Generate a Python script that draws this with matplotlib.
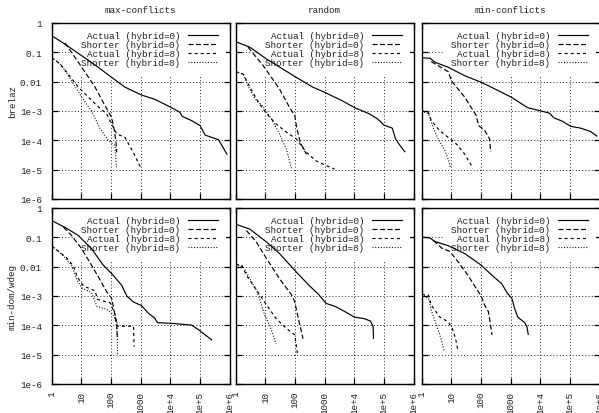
import matplotlib.pyplot as plt
from matplotlib.ticker import FixedLocator, FixedFormatter, NullLocator

plt.rcParams['font.family'] = ['Liberation Mono', 'DejaVu Sans Mono']
plt.rcParams['font.size'] = 6.7
plt.rcParams['text.color'] = '#222222'
plt.rcParams['lines.scale_dashes'] = False

solvers = ['max-conflicts', 'random', 'min-conflicts']
heuristics = ['brelaz', 'min-dom/wdeg']
series_labels = ['Actual (hybrid=0)', 'Shorter (hybrid=0)',
                 'Actual (hybrid=8)', 'Shorter (hybrid=8)']
x_ticks = [1, 10, 100, 1000, 1e4, 1e5, 1e6]
x_ticklabels = ['1', '10', '100', '1000', '1e+4', '1e+5', '1e+6']
y_ticks = [1, 0.1, 0.01, 1e-3, 1e-4, 1e-5, 1e-6]
y_ticklabels = ['1', '0.1', '0.01', '1e-3', '1e-4', '1e-5', '1e-6']

# brelaz / max-conflicts
bz_maxc_a0_x = [1, 2.8, 10, 37, 105, 295, 1070, 3000, 11000, 21000, 25000, 52000, 100000, 150000, 420000, 800000]
bz_maxc_a0_y = [0.37, 0.19, 0.078, 0.031, 0.014, 0.0065, 0.0035, 0.0025, 0.0013, 0.0009, 0.00066, 0.00047, 0.00032, 0.00015, 0.000105, 0.000034]
bz_maxc_s0_x = [2.8, 7.9, 29, 63, 105, 126, 145, 155]
bz_maxc_s0_y = [0.21, 0.046, 0.0065, 0.0015, 0.0006, 0.00025, 0.0001, 0.000039]
bz_maxc_a8_x = [1, 1.9, 3.6, 7.9, 17, 37, 71, 105, 155, 295, 560, 1020]
bz_maxc_a8_y = [0.068, 0.04, 0.018, 0.0065, 0.003, 0.0014, 0.0008, 0.00036, 0.000166, 0.000126, 0.000039, 0.0000112]
bz_maxc_s8_x = [1, 2.2, 4.7, 10.2, 22, 43, 81, 135, 155]
bz_maxc_s8_y = [0.068, 0.035, 0.0107, 0.003, 0.001, 0.00025, 0.0001, 0.000066, 0.0000105]

# brelaz / random
bz_rand_a0_x = [1, 3.0, 11, 110, 400, 1120, 4000, 10200, 32000, 60000, 100000, 190000, 245000, 320000, 500000]
bz_rand_a0_y = [0.23, 0.15, 0.059, 0.014, 0.0065, 0.0041, 0.0022, 0.0013, 0.0008, 0.00054, 0.00033, 0.00026, 0.000112, 0.000074, 0.000041]
bz_rand_s0_x = [2.6, 8.5, 30, 66, 98, 115, 150, 240]
bz_rand_s0_y = [0.15, 0.035, 0.0056, 0.0013, 0.0007, 0.00025, 0.000085, 0.000034]
bz_rand_a8_x = [1, 1.8, 3.0, 5.8, 11, 23, 51, 110, 240, 510, 1120, 2140]
bz_rand_a8_y = [0.022, 0.018, 0.0065, 0.002, 0.0008, 0.00036, 0.00019, 0.000112, 0.000039, 0.00002, 0.0000138, 0.0000105]
bz_rand_s8_x = [1, 1.8, 2.6, 4.5, 8.5, 16, 30, 51, 76]
bz_rand_s8_y = [0.022, 0.018, 0.0072, 0.0026, 0.0014, 0.00054, 0.000166, 0.00005, 0.0000112]

# brelaz / min-conflicts
bz_minc_a0_x = [1, 1.9, 2.8, 7.8, 28, 102, 220, 1020, 3700, 10500, 20000, 29000, 55000, 105000, 230000, 490000, 800000]
bz_minc_a0_y = [0.065, 0.063, 0.046, 0.031, 0.016, 0.0095, 0.0065, 0.003, 0.0013, 0.001, 0.00085, 0.00058, 0.00045, 0.0003, 0.00026, 0.0002, 0.00014]
bz_minc_s0_x = [2.1, 3.6, 7.8, 10, 28, 69, 83, 132, 195, 210]
bz_minc_s0_y = [0.048, 0.035, 0.022, 0.0107, 0.003, 0.0007, 0.00032, 0.00022, 0.000112, 0.000041]
bz_minc_a8_x = [1, 1.7, 2.1, 4.1, 7.8, 15, 28, 54]
bz_minc_a8_y = [0.001, 0.0009, 0.00047, 0.00021, 0.000126, 0.000074, 0.000034, 0.0000112]
bz_minc_s8_x = [1, 1.7, 2.5, 3.6, 6.0, 7.8, 9.5]
bz_minc_s8_y = [0.001, 0.0008, 0.00025, 0.000112, 0.000045, 0.000023, 0.0000112]

# min-dom/wdeg / max-conflicts
dw_maxc_a0_x = [1, 2.8, 7.9, 22, 55, 105, 230, 340, 560, 1070, 1800, 2900, 3700, 11000, 52000, 87000, 245000]
dw_maxc_a0_y = [0.37, 0.22, 0.115, 0.041, 0.0112, 0.0058, 0.0023, 0.001, 0.00063, 0.00047, 0.00026, 0.00018, 0.000123, 0.000117, 0.000102, 0.000072, 0.000032]
dw_maxc_s0_x = [2.5, 4.7, 10.2, 22, 43, 71, 105, 120, 135, 155, 166]
dw_maxc_s0_y = [0.22, 0.115, 0.041, 0.0112, 0.0035, 0.0014, 0.00083, 0.00043, 0.00022, 0.000089, 0.000032]
dw_maxc_a8_x = [1, 3.2, 5.4, 7.4, 11.7, 29, 35, 93, 138, 166, 575, 600]
dw_maxc_a8_y = [0.051, 0.02, 0.0105, 0.0043, 0.0022, 0.0015, 0.00076, 0.00059, 0.00023, 0.000093, 0.000093, 0.000019]
dw_maxc_s8_x = [1, 2.5, 4.8, 6.9, 10.2, 22, 33, 72, 120, 158, 166]
dw_maxc_s8_y = [0.051, 0.023, 0.0105, 0.0037, 0.0019, 0.0013, 0.00045, 0.00035, 0.00023, 0.000123, 0.00001]

# min-dom/wdeg / random
dw_rand_a0_x = [1, 3.0, 11, 30, 110, 310, 590, 1120, 2400, 5200, 10200, 21000, 35000, 43000, 44000]
dw_rand_a0_y = [0.28, 0.19, 0.069, 0.028, 0.0066, 0.0022, 0.0012, 0.00056, 0.00043, 0.00028, 0.00019, 0.00017, 0.00014, 0.000089, 0.000036]
dw_rand_s0_x = [2.3, 5.0, 11, 30, 76, 98, 115, 141, 186]
dw_rand_s0_y = [0.17, 0.069, 0.0186, 0.0039, 0.0011, 0.00063, 0.00029, 0.000117, 0.000035]
dw_rand_a8_x = [1, 1.6, 2.3, 5.0, 11, 23, 51, 98, 120]
dw_rand_a8_y = [0.012, 0.0112, 0.0051, 0.0016, 0.00049, 0.00017, 0.000079, 0.000047, 0.0000112]
dw_rand_s8_x = [1, 1.8, 3.0, 5.0, 6.9, 9.5, 14, 23]
dw_rand_s8_y = [0.012, 0.0098, 0.0039, 0.0016, 0.00063, 0.00022, 0.0001, 0.000023]

# min-dom/wdeg / min-conflicts
dw_minc_a0_x = [1, 1.9, 2.8, 7.8, 28, 102, 220, 500, 790, 1100, 1350, 1740, 2900, 3550, 3900]
dw_minc_a0_y = [0.102, 0.095, 0.072, 0.052, 0.028, 0.0112, 0.0054, 0.0026, 0.0012, 0.00083, 0.00038, 0.00019, 0.000126, 0.000089, 0.000049]
dw_minc_s0_x = [2.5, 4.7, 8.9, 17, 36, 69, 102, 132, 178, 210, 235]
dw_minc_s0_y = [0.078, 0.043, 0.033, 0.0145, 0.0051, 0.0018, 0.001, 0.00049, 0.00029, 0.0001, 0.000047]
dw_minc_a8_x = [1, 1.7, 2.1, 4.1, 7.8, 10.7, 13.8, 17]
dw_minc_a8_y = [0.00115, 0.00107, 0.00049, 0.00019, 0.000132, 0.000079, 0.000036, 0.0000129]
dw_minc_s8_x = [1, 1.7, 2.1, 3.0, 4.1, 5.8]
dw_minc_s8_y = [0.00115, 0.00083, 0.00033, 0.000117, 0.000047, 0.0000129]

panels = [
    [[(bz_maxc_a0_x, bz_maxc_a0_y), (bz_maxc_s0_x, bz_maxc_s0_y), (bz_maxc_a8_x, bz_maxc_a8_y), (bz_maxc_s8_x, bz_maxc_s8_y)],
     [(bz_rand_a0_x, bz_rand_a0_y), (bz_rand_s0_x, bz_rand_s0_y), (bz_rand_a8_x, bz_rand_a8_y), (bz_rand_s8_x, bz_rand_s8_y)],
     [(bz_minc_a0_x, bz_minc_a0_y), (bz_minc_s0_x, bz_minc_s0_y), (bz_minc_a8_x, bz_minc_a8_y), (bz_minc_s8_x, bz_minc_s8_y)]],
    [[(dw_maxc_a0_x, dw_maxc_a0_y), (dw_maxc_s0_x, dw_maxc_s0_y), (dw_maxc_a8_x, dw_maxc_a8_y), (dw_maxc_s8_x, dw_maxc_s8_y)],
     [(dw_rand_a0_x, dw_rand_a0_y), (dw_rand_s0_x, dw_rand_s0_y), (dw_rand_a8_x, dw_rand_a8_y), (dw_rand_s8_x, dw_rand_s8_y)],
     [(dw_minc_a0_x, dw_minc_a0_y), (dw_minc_s0_x, dw_minc_s0_y), (dw_minc_a8_x, dw_minc_a8_y), (dw_minc_s8_x, dw_minc_s8_y)]],
]

line_styles = [dict(ls='-'), dict(dashes=(3.6, 1.8)), dict(dashes=(2.2, 2.2)), dict(dashes=(0.7, 1.3))]

W, H = 599, 414
fig = plt.figure(figsize=(W / 100, H / 100), dpi=100)

col_left = [51.7, 235.7, 421.7]
col_w = 178.0
row_top = [24, 209]
row_h = 176.0
ylabel_y = [0.56, 0.5]

for r in range(2):
    for c in range(3):
        ax = fig.add_axes([col_left[c] / W, 1 - (row_top[r] + row_h) / H, col_w / W, row_h / H])
        ax.set_xscale('log')
        ax.set_yscale('log')
        ax.set_xlim(1, 1e6)
        ax.set_ylim(1e-6, 1)

        lines = []
        for (xs, ys), st, lab in zip(panels[r][c], line_styles, series_labels):
            ln, = ax.plot(xs, ys, color='black', lw=0.85, label=lab, **st)
            lines.append(ln)

        ax.xaxis.set_major_locator(FixedLocator(x_ticks))
        ax.yaxis.set_major_locator(FixedLocator(y_ticks))
        ax.xaxis.set_minor_locator(NullLocator())
        ax.yaxis.set_minor_locator(NullLocator())
        if r == 1:
            ax.xaxis.set_major_formatter(FixedFormatter(x_ticklabels))
            for t in ax.get_xticklabels():
                t.set_rotation(90)
                t.set_va('top')
                t.set_ha('center')
        else:
            ax.set_xticklabels([])
        if c == 0:
            ax.yaxis.set_major_formatter(FixedFormatter(y_ticklabels))
            ax.set_ylabel(heuristics[r], color='#222222')
            ax.yaxis.set_label_coords(-0.195, ylabel_y[r])
        else:
            ax.set_yticklabels([])

        ax.tick_params(which='major', direction='in', length=4.5, width=0.9,
                       top=True, right=True, labelcolor='#222222')
        ax.tick_params(axis='x', pad=5)
        ax.tick_params(axis='y', pad=7)
        ax.grid(True, which='major', color='black', lw=0.6, dashes=(0.7, 1.6))
        ax.set_axisbelow(True)
        for sp in ax.spines.values():
            sp.set_linewidth(1.0)

        if r == 0:
            ax.text(0.5, 1 + 13 / row_h, solvers[c], transform=ax.transAxes,
                    ha='center', va='center')

        leg = ax.legend(handles=lines, loc='upper right', bbox_to_anchor=(1 - 3.5 / col_w, 1.0),
                        markerfirst=False, frameon=True, fancybox=False, framealpha=1,
                        edgecolor='none', facecolor='white', borderpad=0.9, borderaxespad=0,
                        labelspacing=0.0, handlelength=3.2, handletextpad=0.85)
        leg.set_zorder(1)

fig.savefig('out.png', dpi=100)
